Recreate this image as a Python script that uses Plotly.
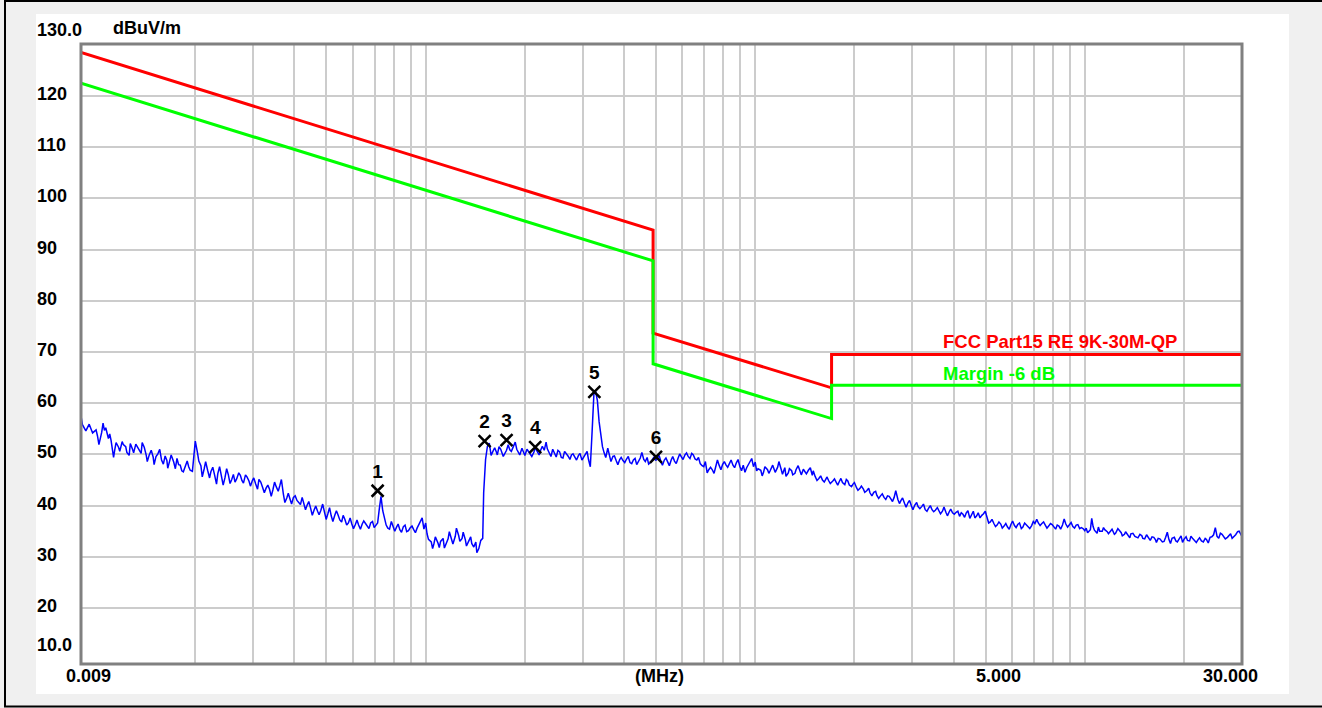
import plotly.graph_objects as go

# ---------------- data ----------------
# measured sweep (MHz / dBuV/m), read from the picture
FREQ_A = [0.009, 0.00909, 0.00931, 0.00953, 0.00976,
          0.0100, 0.0102, 0.0105, 0.0107, 0.0110, 0.0113, 0.0115, 0.0118, 0.0121, 0.0124,
          0.0127, 0.0130, 0.0133, 0.0137, 0.0140, 0.0143, 0.0147, 0.0150, 0.0154, 0.0158,
          0.0162, 0.0165, 0.0169, 0.0174, 0.0178, 0.0182, 0.0187, 0.0191, 0.0196, 0.0200,
          0.0205, 0.0210, 0.0215, 0.0221, 0.0226, 0.0232, 0.0237, 0.0243, 0.0249, 0.0255,
          0.0261, 0.0267, 0.0274, 0.0280, 0.0287, 0.0294, 0.0301, 0.0309, 0.0316, 0.0324,
          0.0332, 0.0340, 0.0348, 0.0357, 0.0365, 0.0374, 0.0383, 0.0392, 0.0402, 0.0412,
          0.0422, 0.0432, 0.0442, 0.0453, 0.0464, 0.0475, 0.0487, 0.0499, 0.0511, 0.0523,
          0.0536, 0.0549, 0.0562, 0.0576, 0.0590, 0.0604, 0.0619, 0.0634, 0.0649, 0.0665,
          0.0681, 0.0698, 0.0715, 0.0732, 0.0750, 0.0768, 0.0787, 0.0806, 0.0825, 0.0845,
          0.0866, 0.0887, 0.0909, 0.0931, 0.0953, 0.0976]
LEVEL_A = [57.5, 55.8, 54.6, 55.9, 54.2,
           54.8, 51.9, 56.1, 55.2, 54.0, 49.4, 52.3, 50.6, 51.9, 50.4,
           52.1, 50.3, 51.6, 50.2, 51.4, 48.6, 50.8, 48.0, 50.1, 48.9,
           49.7, 47.3, 49.9, 47.2, 48.0, 46.8, 47.9, 47.6, 46.7, 52.6,
           48.7, 45.6, 48.6, 45.4, 47.5, 44.2, 47.6, 44.0, 47.2, 44.3,
           46.1, 45.2, 45.9, 44.4, 45.6, 43.8, 45.4, 43.2, 44.6, 42.5,
           44.0, 41.8, 44.6, 42.8, 45.1, 40.6, 42.4, 40.3, 41.9, 40.5,
           41.6, 39.2, 40.8, 38.1, 39.9, 38.2, 40.3, 37.3, 39.6, 36.9,
           39.0, 37.2, 38.1, 36.2, 37.6, 35.5, 37.2, 35.4, 37.0, 35.9,
           36.6, 35.7, 36.6, 41.8, 37.5, 35.6, 36.9, 35.0, 36.4, 34.8,
           36.2, 35.1, 36.0, 34.7, 36.3, 37.6]
FREQ_A2 = [0.0101, 0.0104, 0.0106, 0.0109, 0.0111, 0.0114, 0.0117, 0.0120, 0.0123, 0.0126,
           0.0129, 0.0132, 0.0135, 0.0138, 0.0142, 0.0145, 0.0149, 0.0152, 0.0156, 0.0160,
           0.0164, 0.0167, 0.0172, 0.0176, 0.0180, 0.0184, 0.0189, 0.0193, 0.0198, 0.0203,
           0.0208, 0.0213, 0.0218, 0.0223, 0.0229, 0.0234, 0.0240, 0.0246, 0.0252, 0.0258,
           0.0264, 0.0271, 0.0277, 0.0284, 0.0291, 0.0298, 0.0305, 0.0312, 0.0320, 0.0328,
           0.0336, 0.0344, 0.0352, 0.0361, 0.0370, 0.0379, 0.0388, 0.0397, 0.0407, 0.0417,
           0.0427, 0.0437, 0.0448, 0.0459, 0.0470, 0.0481, 0.0493, 0.0505, 0.0517, 0.0530,
           0.0542, 0.0556, 0.0569, 0.0583, 0.0597, 0.0612, 0.0626, 0.0642, 0.0657, 0.0673,
           0.0690, 0.0706, 0.0723, 0.0741, 0.0759, 0.0777, 0.0796, 0.0816, 0.0835, 0.0856,
           0.0876, 0.0898, 0.0920, 0.0942, 0.0965, 0.0988]
LEVEL_A2 = [53.6, 54.3, 54.7, 53.1, 52.8, 51.0, 51.4, 52.5, 51.5, 49.8,
            51.0, 52.0, 50.9, 52.3, 49.8, 49.9, 49.5, 49.6, 51.0, 48.1,
            48.8, 48.6, 48.5, 49.2, 47.9, 46.6, 48.7, 46.9, 50.2, 50.4,
            47.8, 47.3, 46.9, 46.6, 45.9, 46.2, 45.8, 45.4, 46.0, 45.1,
            44.6, 46.4, 44.9, 46.0, 44.8, 44.9, 44.2, 45.1, 43.6, 43.4,
            43.2, 43.1, 43.7, 43.9, 42.3, 41.5, 41.2, 41.6, 41.0, 40.2,
            40.3, 40.1, 39.4, 39.2, 38.9, 39.1, 38.8, 38.4, 38.0, 38.1,
            38.2, 36.8, 37.3, 36.6, 36.4, 36.3, 36.2, 36.4, 36.5, 35.5,
            36.9, 36.1, 39.2, 39.0, 36.2, 35.4, 36.0, 35.8, 35.3, 35.9,
            34.9, 35.7, 35.3, 35.6, 37.0, 35.4]

FREQ_B = [0.100, 0.102, 0.105, 0.107, 0.110, 0.113, 0.115, 0.118, 0.121, 0.124,
          0.127, 0.130, 0.133, 0.137, 0.140, 0.143, 0.147, 0.150, 0.154, 0.158,
          0.162, 0.165, 0.169, 0.174, 0.178, 0.182, 0.187, 0.191, 0.196, 0.200,
          0.205, 0.210, 0.215, 0.221, 0.226, 0.232, 0.237, 0.243, 0.249, 0.255,
          0.261, 0.267, 0.274, 0.280, 0.287, 0.294, 0.301, 0.309, 0.316, 0.324,
          0.332, 0.340, 0.348, 0.357, 0.365, 0.374, 0.383, 0.392, 0.402, 0.412,
          0.422, 0.432, 0.442, 0.453, 0.464, 0.475, 0.487, 0.499, 0.511, 0.523,
          0.536, 0.549, 0.562, 0.576, 0.590, 0.604, 0.619, 0.634, 0.649, 0.665,
          0.681, 0.698, 0.715, 0.732, 0.750, 0.768, 0.787, 0.806, 0.825, 0.845,
          0.866, 0.887, 0.909, 0.931, 0.953, 0.976]
LEVEL_B = [36.6, 33.4, 31.6, 33.9, 31.8, 33.6, 32.2, 34.9, 32.5, 35.6,
           33.0, 34.8, 32.1, 33.9, 31.9, 30.8, 33.2, 42.5, 51.6, 49.8,
           51.3, 49.9, 51.0, 50.1, 51.9, 50.6, 52.4, 50.3, 51.2, 49.8,
           50.6, 49.6, 51.3, 49.9, 51.6, 52.4, 50.2, 51.0, 49.5, 50.5,
           49.3, 50.2, 49.0, 50.1, 48.9, 50.2, 49.4, 50.6, 47.6, 61.8,
           60.5, 53.6, 50.3, 51.2, 48.6, 49.7, 48.0, 49.4, 48.4, 49.6,
           48.2, 49.2, 48.5, 50.4, 48.6, 48.1, 48.9, 48.8, 49.8, 47.9,
           49.3, 47.8, 49.6, 48.2, 50.1, 49.0, 50.3, 49.2, 49.9, 48.9,
           48.2, 47.6, 46.4, 47.5, 46.3, 48.9, 47.0, 48.6, 47.5, 48.9,
           47.4, 49.0, 46.8, 46.5, 48.1, 49.2]
FREQ_B2 = [0.101, 0.104, 0.106, 0.109, 0.111, 0.114, 0.117, 0.120, 0.123, 0.126,
           0.129, 0.132, 0.135, 0.138, 0.142, 0.145, 0.149, 0.152, 0.156, 0.160,
           0.164, 0.167, 0.172, 0.176, 0.180, 0.184, 0.189, 0.193, 0.198, 0.203,
           0.208, 0.213, 0.218, 0.223, 0.229, 0.234, 0.240, 0.246, 0.252, 0.258,
           0.264, 0.271, 0.277, 0.284, 0.291, 0.298, 0.305, 0.312, 0.320, 0.328,
           0.336, 0.344, 0.352, 0.361, 0.370, 0.379, 0.388, 0.397, 0.407, 0.417,
           0.427, 0.437, 0.448, 0.459, 0.470, 0.481, 0.493, 0.505, 0.517, 0.530,
           0.542, 0.556, 0.569, 0.583, 0.597, 0.612, 0.626, 0.642, 0.657, 0.673,
           0.690, 0.706, 0.723, 0.741, 0.759, 0.777, 0.796, 0.816, 0.835, 0.856,
           0.876, 0.898, 0.920, 0.942, 0.965, 0.988]
LEVEL_B2 = [34.5, 32.9, 32.6, 32.7, 33.0, 31.7, 33.5, 33.4, 34.0, 34.1,
            33.6, 33.3, 33.0, 32.6, 32.9, 31.6, 33.6, 49.0, 52.2, 50.6,
            50.4, 51.5, 49.6, 50.8, 50.9, 51.4, 51.0, 49.9, 50.4, 51.0,
            50.1, 50.4, 50.6, 50.7, 50.8, 51.1, 49.6, 50.2, 50.8, 49.4,
            50.6, 49.6, 49.9, 49.5, 49.8, 48.9, 50.2, 49.0, 54.5, 62.3,
            56.4, 51.5, 49.4, 49.8, 49.6, 48.7, 49.0, 48.8, 49.1, 48.4,
            48.9, 48.0, 49.3, 49.0, 49.4, 48.4, 49.5, 49.2, 48.7, 48.9,
            48.6, 48.9, 48.7, 49.2, 49.5, 49.9, 49.6, 50.2, 49.1, 49.4,
            47.8, 48.6, 47.0, 47.0, 47.6, 47.9, 48.0, 47.9, 48.2, 47.9,
            48.3, 47.7, 47.9, 47.4, 48.7, 47.6]

FREQ_C = [1.00, 1.02, 1.05, 1.07, 1.10, 1.13, 1.15, 1.18, 1.21, 1.24,
          1.27, 1.30, 1.33, 1.37, 1.40, 1.43, 1.47, 1.50, 1.54, 1.58,
          1.62, 1.65, 1.69, 1.74, 1.78, 1.82, 1.87, 1.91, 1.96, 2.00,
          2.05, 2.10, 2.15, 2.21, 2.26, 2.32, 2.37, 2.43, 2.49, 2.55,
          2.61, 2.67, 2.74, 2.80, 2.87, 2.94, 3.01, 3.09, 3.16, 3.24,
          3.32, 3.40, 3.48, 3.57, 3.65, 3.74, 3.83, 3.92, 4.02, 4.12,
          4.22, 4.32, 4.42, 4.53, 4.64, 4.75, 4.87, 4.99, 5.11, 5.23,
          5.36, 5.49, 5.62, 5.76, 5.90, 6.04, 6.19, 6.34, 6.49, 6.65,
          6.81, 6.98, 7.15, 7.32, 7.50, 7.68, 7.87, 8.06, 8.25, 8.45,
          8.66, 8.87, 9.09, 9.31, 9.53, 9.76]
LEVEL_C = [48.5, 47.2, 45.8, 47.6, 46.3, 47.9, 46.5, 48.6, 46.1, 45.7,
           47.2, 46.0, 47.0, 46.4, 47.1, 46.2, 47.4, 46.8, 44.9, 45.8,
           44.6, 45.6, 44.3, 45.2, 44.0, 45.3, 44.1, 44.8, 43.7, 44.5,
           43.0, 43.8, 42.6, 43.4, 41.9, 42.8, 41.4, 42.3, 41.2, 41.8,
           40.8, 42.9, 40.4, 41.5, 39.7, 41.0, 39.2, 40.6, 39.4, 40.3,
           38.9, 40.0, 38.8, 39.6, 38.4, 39.7, 38.0, 39.3, 38.3, 38.9,
           38.6, 37.7, 39.0, 38.3, 37.6, 38.6, 38.1, 38.9, 36.6, 37.3,
           35.9, 36.8, 35.6, 36.5, 35.4, 37.0, 35.7, 36.6, 35.8, 36.2,
           35.5, 36.9, 37.3, 36.1, 36.8, 35.6, 36.5, 35.9, 36.2, 35.4,
           37.4, 35.8, 36.7, 35.6, 36.3, 35.7]
FREQ_C2 = [1.01, 1.04, 1.06, 1.09, 1.11, 1.14, 1.17, 1.20, 1.23, 1.26,
           1.29, 1.32, 1.35, 1.38, 1.42, 1.45, 1.49, 1.52, 1.56, 1.60,
           1.64, 1.67, 1.72, 1.76, 1.80, 1.84, 1.89, 1.93, 1.98, 2.03,
           2.08, 2.13, 2.18, 2.23, 2.29, 2.34, 2.40, 2.46, 2.52, 2.58,
           2.64, 2.71, 2.77, 2.84, 2.91, 2.98, 3.05, 3.12, 3.20, 3.28,
           3.36, 3.44, 3.52, 3.61, 3.70, 3.79, 3.88, 3.97, 4.07, 4.17,
           4.27, 4.37, 4.48, 4.59, 4.70, 4.81, 4.93, 5.05, 5.17, 5.30,
           5.42, 5.56, 5.69, 5.83, 5.97, 6.12, 6.26, 6.42, 6.57, 6.73,
           6.90, 7.06, 7.23, 7.41, 7.59, 7.77, 7.96, 8.16, 8.35, 8.56,
           8.76, 8.98, 9.20, 9.42, 9.65, 9.88]
LEVEL_C2 = [46.8, 46.9, 46.5, 47.0, 46.8, 47.2, 47.5, 47.0, 47.4, 46.4,
            46.8, 46.3, 47.8, 46.0, 46.6, 46.9, 45.9, 45.7, 45.3, 45.0,
            45.2, 44.9, 44.8, 44.6, 44.7, 44.5, 45.1, 44.0, 44.2, 43.5,
            43.4, 43.2, 42.9, 42.5, 42.6, 42.0, 41.9, 41.6, 41.9, 41.3,
            41.6, 41.2, 41.0, 40.4, 40.6, 39.9, 40.1, 39.8, 39.8, 39.2,
            39.5, 39.2, 39.1, 39.0, 38.9, 38.7, 38.8, 38.6, 38.7, 37.9,
            38.3, 38.6, 37.5, 38.9, 38.0, 37.6, 38.4, 37.8, 36.8, 36.5,
            36.2, 36.4, 36.0, 35.8, 36.3, 36.1, 36.3, 35.5, 36.6, 35.9,
            36.1, 36.5, 36.6, 36.5, 36.2, 36.0, 36.3, 35.4, 36.0, 36.2,
            36.4, 36.3, 35.9, 36.2, 35.5, 35.5]

FREQ_D = [10.0, 10.2, 10.5, 10.7, 11.0, 11.3, 11.5, 11.8, 12.1, 12.4,
          12.7, 13.0, 13.3, 13.7, 14.0, 14.3, 14.7, 15.0, 15.4, 15.8,
          16.2, 16.5, 16.9, 17.4, 17.8, 18.2, 18.7, 19.1, 19.6, 20.0,
          20.5, 21.0, 21.5, 22.1, 22.6, 23.2, 23.7, 24.3, 24.9, 25.5,
          26.1, 26.7, 27.4, 28.0, 28.7, 29.4, 30.0]
LEVEL_D = [35.1, 34.7, 37.5, 35.2, 35.8, 35.0, 35.3, 34.5, 35.4, 34.6,
           35.2, 34.1, 34.9, 33.7, 34.6, 33.9, 34.4, 33.6, 34.3, 33.2,
           33.8, 32.8, 33.5, 33.0, 34.8, 32.6, 33.8, 32.9, 34.1, 33.4,
           33.2, 34.0, 33.2, 33.4, 33.1, 33.6, 32.7, 33.9, 35.7, 33.6,
           34.4, 33.5, 34.2, 33.6, 34.3, 35.0, 34.6]
FREQ_D2 = [10.1, 10.4, 10.6, 10.9, 11.1, 11.4, 11.7, 12.0, 12.3, 12.6,
           12.9, 13.2, 13.5, 13.8, 14.2, 14.5, 14.9, 15.2, 15.6, 16.0,
           16.4, 16.7, 17.2, 17.6, 18.0, 18.4, 18.9, 19.3, 19.8, 20.3,
           20.8, 21.3, 21.8, 22.3, 22.9, 23.4, 24.0, 24.6, 25.2, 25.8,
           26.4, 27.1, 27.7, 28.4, 29.1, 29.8]
LEVEL_D2 = [35.6, 35.3, 35.9, 34.6, 35.0, 35.7, 34.9, 35.1, 34.4, 35.5,
            34.7, 34.4, 34.2, 34.5, 34.0, 33.7, 34.1, 33.5, 33.8, 33.9,
            33.3, 33.6, 32.9, 33.8, 33.4, 33.6, 33.1, 33.4, 32.8, 33.9,
            33.1, 33.5, 32.8, 33.7, 32.9, 33.4, 33.8, 34.3, 34.0, 34.6,
            33.9, 33.8, 34.5, 33.9, 34.9, 34.3]

# limit lines
LIMIT_FREQ = [0.009, 0.49, 0.49, 1.705, 1.705, 30.0]
LIMIT_QP = [128.5, 93.8, 73.7, 63.0, 69.5, 69.5]
MARGIN_LINE = [122.5, 87.8, 67.7, 57.0, 63.5, 63.5]

# markers
MARKER_FREQ = [0.0715, 0.151, 0.176, 0.215, 0.325, 0.500]
MARKER_LEVEL = [42.9, 52.6, 52.8, 51.4, 62.2, 49.5]
MARKER_LABEL = ["1", "2", "3", "4", "5", "6"]

# axis grid / labels
X_GRID = [0.02, 0.03, 0.04, 0.05, 0.06, 0.07, 0.08, 0.09,
          0.1, 0.2, 0.3, 0.4, 0.5, 0.6, 0.7, 0.8, 0.9,
          1, 2, 3, 4, 5, 6, 7, 8, 9, 10, 20]
Y_GRID = [20, 30, 40, 50, 60, 70, 80, 90, 100, 110, 120]
Y_LABELS = ["20", "30", "40", "50", "60", "70", "80", "90", "100", "110", "120"]

# ---------------- figure ----------------
W, H = 1322, 708
L, R, T, B = 81, 80, 44, 44
PW, PH = W - L - R, H - T - B


def px(x):
    return (x - L) / PW


def py(y):
    return (H - B - y) / PH


FONT = "Liberation Sans, Arial, sans-serif"
pairs = sorted(zip(FREQ_A + FREQ_A2 + FREQ_B + FREQ_B2 + FREQ_C + FREQ_C2 + FREQ_D + FREQ_D2,
                   LEVEL_A + LEVEL_A2 + LEVEL_B + LEVEL_B2 + LEVEL_C + LEVEL_C2 + LEVEL_D + LEVEL_D2))
freq = [p[0] for p in pairs]
level = [p[1] for p in pairs]

fig = go.Figure()
fig.add_trace(go.Scatter(x=LIMIT_FREQ, y=LIMIT_QP, mode="lines",
                         line=dict(color="#ff0000", width=3), hoverinfo="skip"))
fig.add_trace(go.Scatter(x=LIMIT_FREQ, y=MARGIN_LINE, mode="lines",
                         line=dict(color="#00ff00", width=3), hoverinfo="skip"))
fig.add_trace(go.Scatter(x=freq, y=level, mode="lines",
                         line=dict(color="#0000ff", width=1.5), hoverinfo="skip"))
fig.add_trace(go.Scatter(x=MARKER_FREQ, y=MARKER_LEVEL, mode="markers+text",
                         text=MARKER_LABEL, textposition="top center",
                         textfont=dict(family=FONT, size=19, color="#000000", weight="bold"),
                         marker=dict(symbol="x-thin", size=12, color="#000000",
                                     line=dict(color="#000000", width=2.5)),
                         hoverinfo="skip"))

ann = []
lab_font = dict(family=FONT, size=18, color="#000000", weight="bold")
for v, t in zip(Y_GRID, Y_LABELS):
    ann.append(dict(x=px(35), y=v, xref="paper", yref="y", text=t, showarrow=False,
                    xanchor="left", yanchor="middle", yshift=2, font=lab_font))
ann.append(dict(x=px(35), y=py(30), xref="paper", yref="paper", text="130.0",
                showarrow=False, xanchor="left", yanchor="middle", font=lab_font))
ann.append(dict(x=px(35), y=py(644.5), xref="paper", yref="paper", text="10.0",
                showarrow=False, xanchor="left", yanchor="middle", font=lab_font))
ann.append(dict(x=px(111), y=py(28), xref="paper", yref="paper", text="dBuV/m",
                showarrow=False, xanchor="left", yanchor="middle", font=lab_font))
for cx, t in [(88, "0.009"), (659, "(MHz)"), (998, "5.000"), (1230, "30.000")]:
    ann.append(dict(x=px(cx), y=py(675.5), xref="paper", yref="paper", text=t,
                    showarrow=False, xanchor="center", yanchor="middle", font=lab_font))
ann.append(dict(x=px(941), y=py(342), xref="paper", yref="paper",
                text="FCC Part15 RE 9K-30M-QP", showarrow=False, xanchor="left",
                yanchor="middle", font=dict(family=FONT, size=18.5, color="#ff0000", weight="bold")))
ann.append(dict(x=px(941), y=py(373), xref="paper", yref="paper",
                text="Margin -6 dB", showarrow=False, xanchor="left",
                yanchor="middle", font=dict(family=FONT, size=18.5, color="#00ff00", weight="bold")))

shapes = [
    # white panel
    dict(type="rect", xref="paper", yref="paper", x0=px(36), x1=px(1289),
         y0=py(694), y1=py(14), fillcolor="#ffffff", line=dict(width=0), layer="below"),
    # outer black frame (left, top, bottom)
    dict(type="line", xref="paper", yref="paper", x0=px(5), x1=px(5),
         y0=py(707), y1=py(0), line=dict(color="#000000", width=2)),
    dict(type="line", xref="paper", yref="paper", x0=px(4), x1=px(1322),
         y0=py(1), y1=py(1), line=dict(color="#000000", width=2)),
    dict(type="line", xref="paper", yref="paper", x0=px(4), x1=px(1322),
         y0=py(706.5), y1=py(706.5), line=dict(color="#000000", width=2)),
    # plot frame
    dict(type="rect", xref="paper", yref="paper", x0=0, x1=1, y0=0, y1=1,
         line=dict(color="#808080", width=3)),
]

fig.update_layout(
    width=W, height=H,
    margin=dict(l=L, r=R, t=T, b=B),
    paper_bgcolor="#f0f0f0",
    plot_bgcolor="#ffffff",
    showlegend=False,
    annotations=ann,
    shapes=shapes,
    xaxis=dict(type="log", range=[-2.045757, 1.477121], tickvals=X_GRID,
               showticklabels=False, ticks="", showgrid=True, gridcolor="#cccccc",
               gridwidth=2, zeroline=False, showline=False),
    yaxis=dict(range=[9.06, 130.16], tickvals=Y_GRID, showticklabels=False, ticks="",
               showgrid=True, gridcolor="#cccccc", gridwidth=2, zeroline=False,
               showline=False),
)

fig.write_html("out.html", config={"displayModeBar": False},
               post_script="document.body.style.margin='0px';"
                           "document.body.style.overflow='hidden';")
